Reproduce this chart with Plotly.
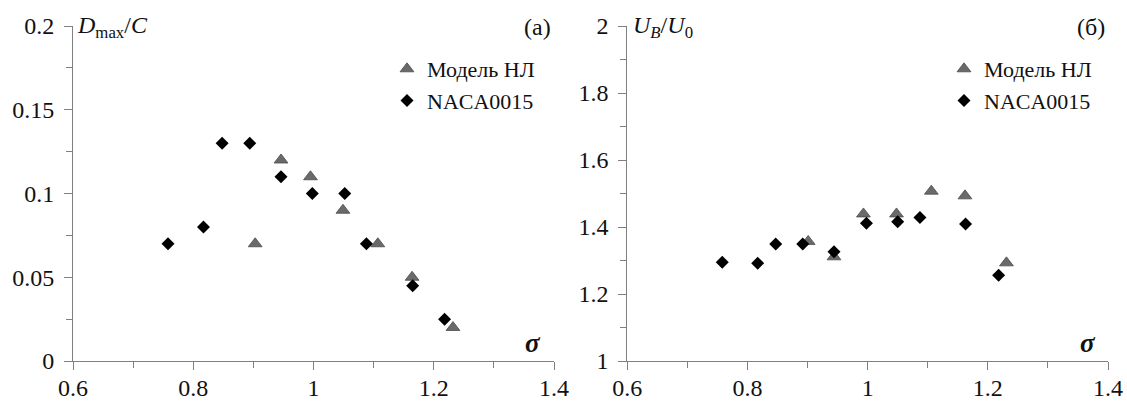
import plotly.graph_objects as go

# Panel (a): D_max / C vs sigma
a_model_x = [0.903, 0.946, 0.995, 1.049, 1.107, 1.164, 1.232]
a_model_y = [0.07, 0.12, 0.11, 0.09, 0.07, 0.05, 0.02]
a_naca_x = [0.758, 0.817, 0.848, 0.894, 0.946, 0.998, 1.052, 1.088, 1.165, 1.218]
a_naca_y = [0.07, 0.08, 0.13, 0.13, 0.11, 0.10, 0.10, 0.07, 0.045, 0.025]

# Panel (б): U_B / U_0 vs sigma
b_model_x = [0.901, 0.944, 0.993, 1.048, 1.106, 1.162, 1.231]
b_model_y = [1.357, 1.311, 1.439, 1.439, 1.507, 1.493, 1.293]
b_naca_x = [0.758, 0.817, 0.847, 0.892, 0.944, 0.998, 1.050, 1.087, 1.163, 1.218]
b_naca_y = [1.295, 1.292, 1.349, 1.349, 1.326, 1.411, 1.416, 1.428, 1.409, 1.256]

series_names = ["Модель НЛ", "NACA0015"]

FONT = "Liberation Serif"
AX = "#808080"
TRI = dict(symbol="triangle-up", size=12, color="#6a6a6a", line=dict(color="#4a4a4a", width=0.8))
DIA = dict(symbol="diamond", size=10, color="#000000", line=dict(color="#000000", width=0))

W, H = 1127, 404
L, R, T, B = 73, 19, 26, 43
PW, PH = W - L - R, H - T - B


def px(xp):
    return (xp - L) / PW


def py(yp):
    return (H - B - yp) / PH


fig = go.Figure()
fig.add_trace(go.Scatter(x=a_model_x, y=a_model_y, mode="markers", marker=TRI, name=series_names[0],
                         xaxis="x", yaxis="y", legend="legend"))
fig.add_trace(go.Scatter(x=a_naca_x, y=a_naca_y, mode="markers", marker=DIA, name=series_names[1],
                         xaxis="x", yaxis="y", legend="legend"))
fig.add_trace(go.Scatter(x=b_model_x, y=b_model_y, mode="markers", marker=TRI, name=series_names[0],
                         xaxis="x2", yaxis="y2", legend="legend2"))
fig.add_trace(go.Scatter(x=b_naca_x, y=b_naca_y, mode="markers", marker=DIA, name=series_names[1],
                         xaxis="x2", yaxis="y2", legend="legend2"))

TICKFONT = dict(family=FONT, size=24, color="#111")


def xax(domain, anchor):
    return dict(domain=domain, anchor=anchor, range=[0.6, 1.4], dtick=0.2, tick0=0.6,
                showgrid=False, zeroline=False, showline=True, linecolor=AX, linewidth=1,
                ticks="outside", ticklen=8, tickcolor=AX, tickwidth=1, automargin=False,
                ticklabelstandoff=-3,
                minor=dict(ticks="outside", ticklen=6, dtick=0.1, tickcolor=AX, tickwidth=1),
                tickfont=TICKFONT)


def yax(domain, anchor, rng, dt):
    return dict(domain=domain, anchor=anchor, range=rng, dtick=dt, tick0=rng[0],
                showgrid=False, zeroline=False, showline=True, linecolor=AX, linewidth=1,
                ticks="outside", ticklen=8, tickcolor=AX, tickwidth=1, automargin=False,
                ticklabelstandoff=5,
                minor=dict(ticks="outside", ticklen=6, dtick=dt / 2, tickcolor=AX, tickwidth=1),
                tickfont=TICKFONT)


xd1 = [0, px(554)]
xd2 = [px(627.3), 1]
yd = [0, 1]

legend_style = dict(font=dict(family=FONT, size=22, color="#111"), bgcolor="rgba(0,0,0,0)",
                    borderwidth=0, tracegroupgap=0, itemwidth=30, xanchor="left", yanchor="top")

fig.update_layout(
    width=W, height=H, margin=dict(l=L, r=R, t=T, b=B, pad=0, autoexpand=False),
    font=dict(family=FONT, color="#111"),
    paper_bgcolor="white", plot_bgcolor="white", showlegend=True,
    xaxis=xax(xd1, "y"), yaxis=yax(yd, "x", [0, 0.2], 0.05),
    xaxis2=xax(xd2, "y2"), yaxis2=yax(yd, "x2", [1, 2], 0.2),
    legend=dict(x=px(387), y=py(48), **legend_style),
    legend2=dict(x=px(944), y=py(48), **legend_style),
)

ann_font = dict(family=FONT, size=24, color="#111")
annotations = [
    dict(text="<i>D</i><sub>max</sub>/<i>C</i>", x=px(75), y=py(27), xref="paper", yref="paper",
         xanchor="left", yanchor="middle", showarrow=False, font=ann_font),
    dict(text="<i>U</i><sub><i>B</i></sub>/<i>U</i><sub>0</sub>", x=px(631), y=py(27), xref="paper", yref="paper",
         xanchor="left", yanchor="middle", showarrow=False, font=ann_font),
    dict(text="(a)", x=px(537), y=py(27), xref="paper", yref="paper",
         xanchor="center", yanchor="middle", showarrow=False, font=ann_font),
    dict(text="(б)", x=px(1091), y=py(27), xref="paper", yref="paper",
         xanchor="center", yanchor="middle", showarrow=False, font=ann_font),
    dict(text="<b><i>σ</i></b>", x=px(533), y=py(343), xref="paper", yref="paper",
         xanchor="center", yanchor="middle", showarrow=False, font=dict(family=FONT, size=27, color="#111")),
    dict(text="<b><i>σ</i></b>", x=px(1088), y=py(343), xref="paper", yref="paper",
         xanchor="center", yanchor="middle", showarrow=False, font=dict(family=FONT, size=27, color="#111")),
]
fig.update_layout(annotations=annotations)

fig.write_html("out.html")
